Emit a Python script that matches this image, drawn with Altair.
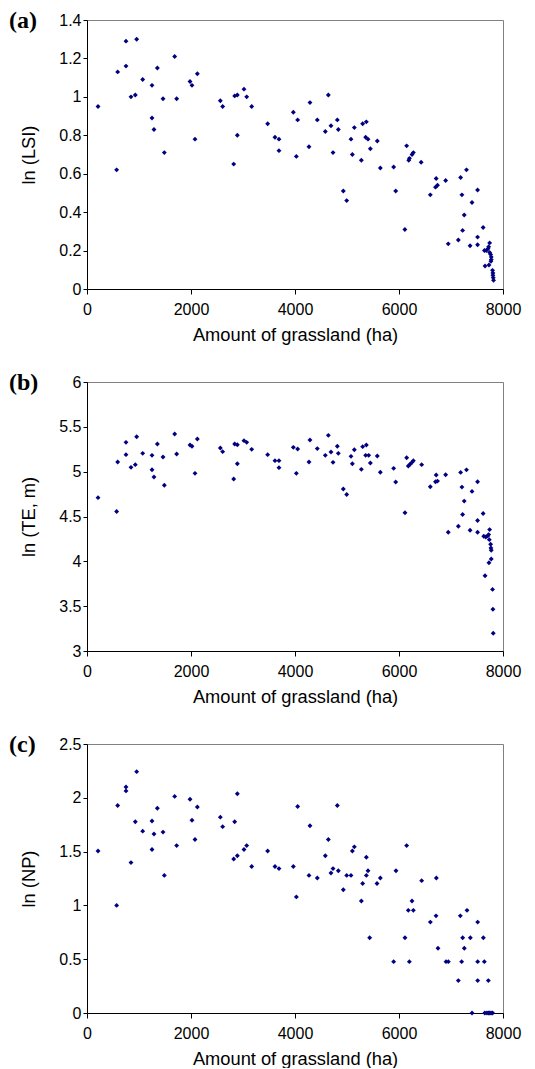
import altair as alt
import pandas as pd

# ---------------- data ----------------
GRASS_A = [212, 570, 590, 750, 750, 846, 929, 955, 1071, 1250, 1250, 1288, 1353, 1462, 1487,
           1686, 1724, 1981, 2019, 2077, 2122, 2564, 2609, 2821, 2840, 2891, 2891, 3019, 3071, 3167,
           3474, 3615, 3692, 3692, 3968, 4051, 4026, 4269, 4288, 4429, 4583, 4641, 4692, 4731, 4814,
           4833, 4929, 4994, 5077, 5103, 5141, 5276, 5301, 5372, 5359, 5404, 5449, 5583, 5641, 5897,
           5937, 6113, 6147, 6188, 6201, 6251, 6276, 6426, 6602, 6715, 6702, 6740, 6897, 6947, 7141,
           7185, 7298, 7210, 7254, 7223, 7367, 7404, 7511, 7511, 7511, 7618, 7743, 7643, 7680, 7712,
           7724, 7743, 7762, 7774, 7774, 7768, 7655, 7730, 7799, 7806, 7806, 7812, 7818]
LSI = [0.95, 0.62, 1.13, 1.29, 1.16, 1.00, 1.01, 1.30, 1.09, 1.06, 0.89, 0.83, 1.15, 0.99, 0.71,
       1.21, 0.99, 1.08, 1.06, 0.78, 1.12, 0.98, 0.95, 0.65, 1.005, 1.01, 0.80, 1.04, 1.00, 0.95,
       0.86, 0.79, 0.78, 0.72, 0.92, 0.88, 0.69, 0.74, 0.97, 0.88, 0.82, 1.01, 0.85, 0.71, 0.88,
       0.83, 0.51, 0.46, 0.78, 0.70, 0.84, 0.67, 0.86, 0.87, 0.79, 0.78, 0.73, 0.77, 0.63, 0.635,
       0.51, 0.31, 0.745, 0.67, 0.68, 0.70, 0.71, 0.66, 0.49, 0.575, 0.53, 0.54, 0.565, 0.235, 0.255,
       0.58, 0.62, 0.49, 0.385, 0.305, 0.225, 0.45, 0.515, 0.27, 0.23, 0.32, 0.24, 0.20, 0.20, 0.21,
       0.22, 0.19, 0.18, 0.167, 0.153, 0.144, 0.12, 0.125, 0.097, 0.083, 0.071, 0.059, 0.045]

GRASS_B = [212, 570, 590, 750, 750, 846, 929, 955, 1071, 1250, 1250, 1288, 1353, 1462, 1487,
           1686, 1724, 1981, 2019, 2077, 2122, 2564, 2609, 2821, 2840, 2891, 2891, 3019, 3071, 3167,
           3474, 3615, 3692, 3692, 3968, 4051, 4026, 4269, 4288, 4429, 4583, 4641, 4692, 4731, 4814,
           4833, 4929, 4994, 5077, 5103, 5141, 5276, 5301, 5372, 5359, 5417, 5449, 5583, 5641, 5897,
           5937, 6115, 6147, 6179, 6212, 6250, 6276, 6436, 6602, 6715, 6702, 6740, 6897, 6947, 7141,
           7185, 7210, 7298, 7254, 7223, 7367, 7404, 7511, 7511, 7511, 7618, 7743, 7630, 7668, 7705,
           7724, 7737, 7762, 7768, 7774, 7774, 7730, 7655, 7799, 7806, 7812]
TE = [4.71, 4.556, 5.108, 5.327, 5.19, 5.048, 5.078, 5.39, 5.204, 5.182, 5.022, 4.941, 5.309, 5.164, 4.848,
      5.42, 5.197, 5.297, 5.283, 4.981, 5.364, 5.264, 5.223, 4.918, 5.309, 5.301, 5.089, 5.346, 5.327, 5.249,
      5.19, 5.123, 5.123, 5.045, 5.271, 5.253, 4.981, 5.108, 5.353, 5.257, 5.182, 5.405, 5.219, 5.104, 5.283,
      5.204, 4.807, 4.746, 5.171, 5.089, 5.245, 5.026, 5.279, 5.297, 5.182, 5.182, 5.097, 5.175, 4.993, 5.037,
      4.885, 4.541, 5.156, 5.063, 5.082, 5.104, 5.123, 5.078, 4.832, 4.963, 4.888, 4.895, 4.966, 4.325, 4.392,
      4.992, 4.828, 5.02, 4.672, 4.522, 4.347, 4.78, 4.888, 4.455, 4.325, 4.533, 4.354, 4.28, 4.272, 4.283,
      4.298, 4.242, 4.19, 4.149, 4.123, 4.026, 3.985, 3.84, 3.687, 3.466, 3.198]

GRASS_C = [212, 570, 590, 750, 750, 846, 929, 955, 1071, 1250, 1250, 1288, 1353, 1462, 1487,
           1686, 1724, 1981, 2019, 2077, 2122, 2564, 2609, 2821, 2840, 2891, 2891, 3019, 3071, 3167,
           3474, 3615, 3692, 3968, 4051, 4026, 4269, 4288, 4429, 4583, 4641, 4692, 4731, 4814, 4833,
           4929, 4994, 5077, 5103, 5141, 5276, 5301, 5372, 5372, 5404, 5436, 5577, 5641, 5897, 5942,
           6115, 6147, 6179, 6199, 6250, 6276, 6436, 6603, 6718, 6712, 6750, 6904, 6949, 7141, 7179,
           7205, 7224, 7256, 7308, 7372, 7404, 7513, 7513, 7513, 7622, 7641, 7718, 7650, 7690, 7720,
           7745, 7770, 7800]
NP = [1.505, 1.0, 1.929, 2.10, 2.064, 1.398, 1.778, 2.243, 1.690, 1.785, 1.519, 1.663, 1.903, 1.681, 1.279,
      2.013, 1.556, 1.987, 1.792, 1.613, 1.914, 1.820, 1.732, 1.431, 1.778, 2.037, 1.462, 1.519, 1.556, 1.362,
      1.505, 1.362, 1.342, 1.362, 1.919, 1.079, 1.279, 1.740, 1.255, 1.462, 1.613, 1.301, 1.342, 1.929, 1.322,
      1.146, 1.279, 1.279, 1.505, 1.544, 1.041, 1.204, 1.447, 1.279, 1.322, 0.699, 1.204, 1.255, 0.477, 1.322,
      0.699, 1.556, 0.954, 0.477, 1.041, 0.954, 1.230, 0.845, 1.255, 0.903, 0.602, 0.477, 0.477, 0.301, 0.903,
      0.477, 0.699, 0.602, 0.954, 0.699, 0.0, 0.845, 0.477, 0.301, 0.699, 0.477, 0.301, 0.0, 0.0, 0.0,
      0.0, 0.0, 0.0]

X_DOMAIN = [0, 8000]
X_TICKS = [0, 2000, 4000, 6000, 8000]
LSI_DOMAIN = [0, 1.4]
LSI_TICKS = [0, 0.2, 0.4, 0.6, 0.8, 1.0, 1.2, 1.4]
TE_DOMAIN = [3, 6]
TE_TICKS = [3, 3.5, 4, 4.5, 5, 5.5, 6]
NP_DOMAIN = [0, 2.5]
NP_TICKS = [0, 0.5, 1, 1.5, 2, 2.5]
PANEL_LABELS = ["(a)", "(b)", "(c)"]
Y_TITLES = ["ln (LSI)", "ln (TE, m)", "ln (NP)"]
X_TITLE = "Amount of grassland (ha)"

W, H = 416, 269


def panel(xs, ys, ydomain, yticks, ytitle, label):
    df = pd.DataFrame({"x": xs, "y": ys})
    pts = alt.Chart(df).mark_point(
        shape="diamond", filled=True, size=24, color="#000080", opacity=1
    ).encode(
        x=alt.X("x:Q", scale=alt.Scale(domain=X_DOMAIN, nice=False),
                axis=alt.Axis(values=X_TICKS, format="d", title=X_TITLE,
                              titleY=37, titleBaseline="top", labelFlush=False,
                              tickSize=5, labelPadding=7)),
        y=alt.Y("y:Q", scale=alt.Scale(domain=ydomain, nice=False, zero=False),
                axis=alt.Axis(values=yticks, format="~g", title=ytitle,
                              titleX=-58, titleY=H / 2, titleAngle=270,
                              titleBaseline="middle", titleAlign="center",
                              tickSize=4, labelPadding=2)),
    )
    lab = alt.Chart(pd.DataFrame({"t": [label]})).mark_text(
        font="Liberation Serif", fontWeight="bold", fontSize=24,
        align="left", baseline="middle", color="black"
    ).encode(text="t:N", x=alt.value(-78), y=alt.value(1))
    return alt.layer(pts, lab).properties(width=W, height=H)


pa = panel(GRASS_A, LSI, LSI_DOMAIN, LSI_TICKS, Y_TITLES[0], PANEL_LABELS[0])
pb = panel(GRASS_B, TE, TE_DOMAIN, TE_TICKS, Y_TITLES[1], PANEL_LABELS[1])
pc = panel(GRASS_C, NP, NP_DOMAIN, NP_TICKS, Y_TITLES[2], PANEL_LABELS[2])

chart = alt.vconcat(pa, pb, pc, spacing=93, bounds="flush").properties(
    padding={"left": 0, "top": 0, "right": 0, "bottom": 0},
    background="white",
).configure_view(
    stroke="#808080", strokeWidth=1
).configure_axis(
    labelFont="Liberation Sans", labelFontSize=16, labelColor="black",
    titleFont="Liberation Sans", titleFontSize=18.3, titleFontWeight="normal", titleColor="black",
    domainColor="black", domainWidth=1, tickColor="black", tickWidth=1, grid=False,
)

chart.save("out.html", embed_options={"renderer": "svg", "actions": False})
